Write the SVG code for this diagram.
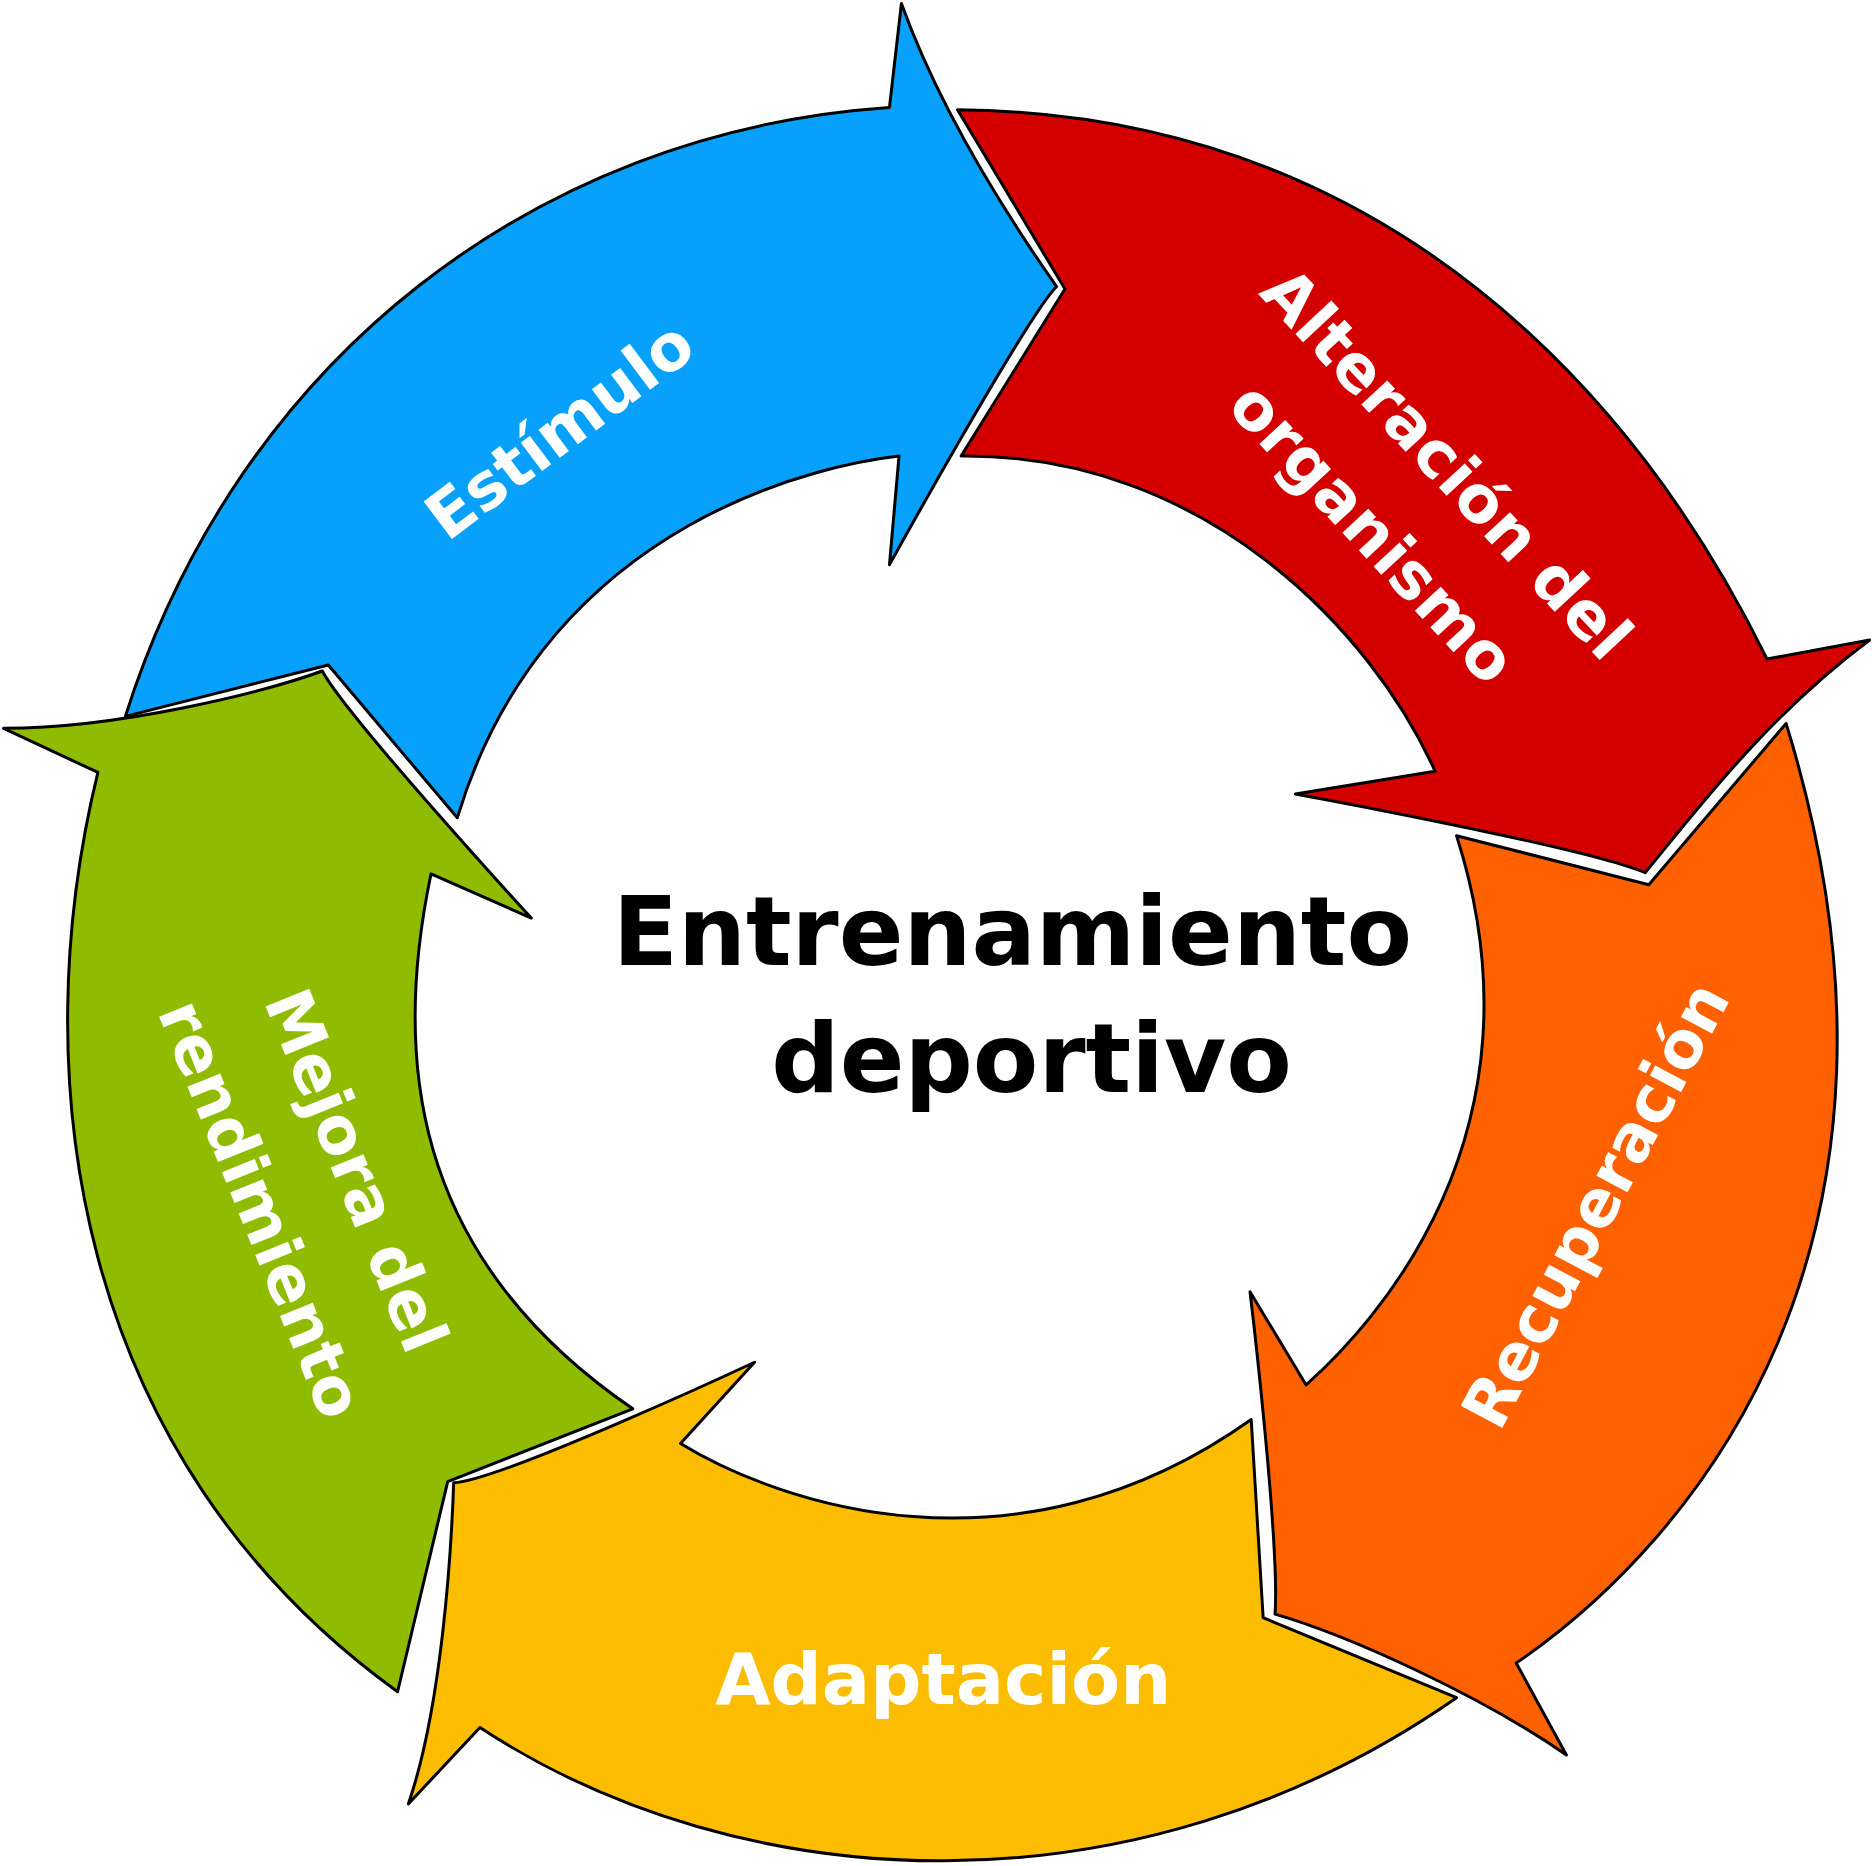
<svg xmlns="http://www.w3.org/2000/svg" width="1872" height="1866" viewBox="0 0 1872 1866">
<style>
.a{stroke:#000;stroke-width:2.5;stroke-linejoin:round}
.l{font-family:"DejaVu Sans",sans-serif;font-weight:bold;fill:#fff;font-size:54px;text-anchor:middle}
.c{font-family:"DejaVu Sans",sans-serif;font-weight:bold;fill:#000;font-size:80px;text-anchor:middle}
</style>
<rect width="1872" height="1866" fill="#fff"/>
<g transform="scale(1.1939)">
<g id="estimulo"><path class="a" fill="#07a1fb" d="M105,600 C200,300 450,110 745,90 L755,3 C790,100 850,190 885,240 C860,265 745,473 745,473 L753,382 C700,388 460,430 383,685 L275,557 Z"/>
<text class="l" transform="translate(480,375) rotate(-37)">Estímulo</text></g>
<g id="alteracion"><path class="a" fill="#d40000" d="M802,92 C1230,95 1420,430 1480,552 L1566,536 C1480,600 1420,680 1378,731 C1330,710 1085,665 1085,665 L1202,646 C1150,530 1010,380 805,382 L892,242 Z"/>
<g transform="translate(1180,418) rotate(47)"><text class="l" y="-25">Alteración del</text><text class="l" y="60">organismo</text></g></g>
<g id="recuperacion"><path class="a" fill="#ff6000" d="M1496,606 C1630,1040 1420,1290 1270,1393 L1312,1470 C1240,1420 1130,1370 1068,1352 C1072,1290 1047,1082 1047,1082 L1094,1160 C1150,1110 1300,950 1220,700 L1381,741 Z"/>
<text class="l" transform="translate(1353,1018) rotate(-62)">Recuperación</text></g>
<g id="adaptacion"><path class="a" fill="#fcbd00" d="M1220,1422 C950,1610 620,1590 402,1447 L342,1511 C370,1430 378,1300 380,1242 C420,1240 632,1141 632,1141 L570,1209 C650,1258 850,1330 1048,1189 L1058,1355 Z"/>
<text class="l" x="790" y="1427" style="font-size:60px">Adaptación</text></g>
<g id="mejora"><path class="a" fill="#8fbc00" d="M333,1417 C60,1220 20,900 82,647 L3,610 C100,610 220,580 270,562 C290,600 445,769 445,769 L361,732 C330,880 340,1050 530,1180 L375,1241 Z"/>
<g transform="translate(255,998) rotate(68)"><text class="l" y="-28">Mejora del</text><text class="l" y="58">rendimiento</text></g></g>
<g id="centro"><text class="c" x="848" y="808">Entrenamiento</text><text class="c" x="864" y="915">deportivo</text></g>
</g>
</svg>
